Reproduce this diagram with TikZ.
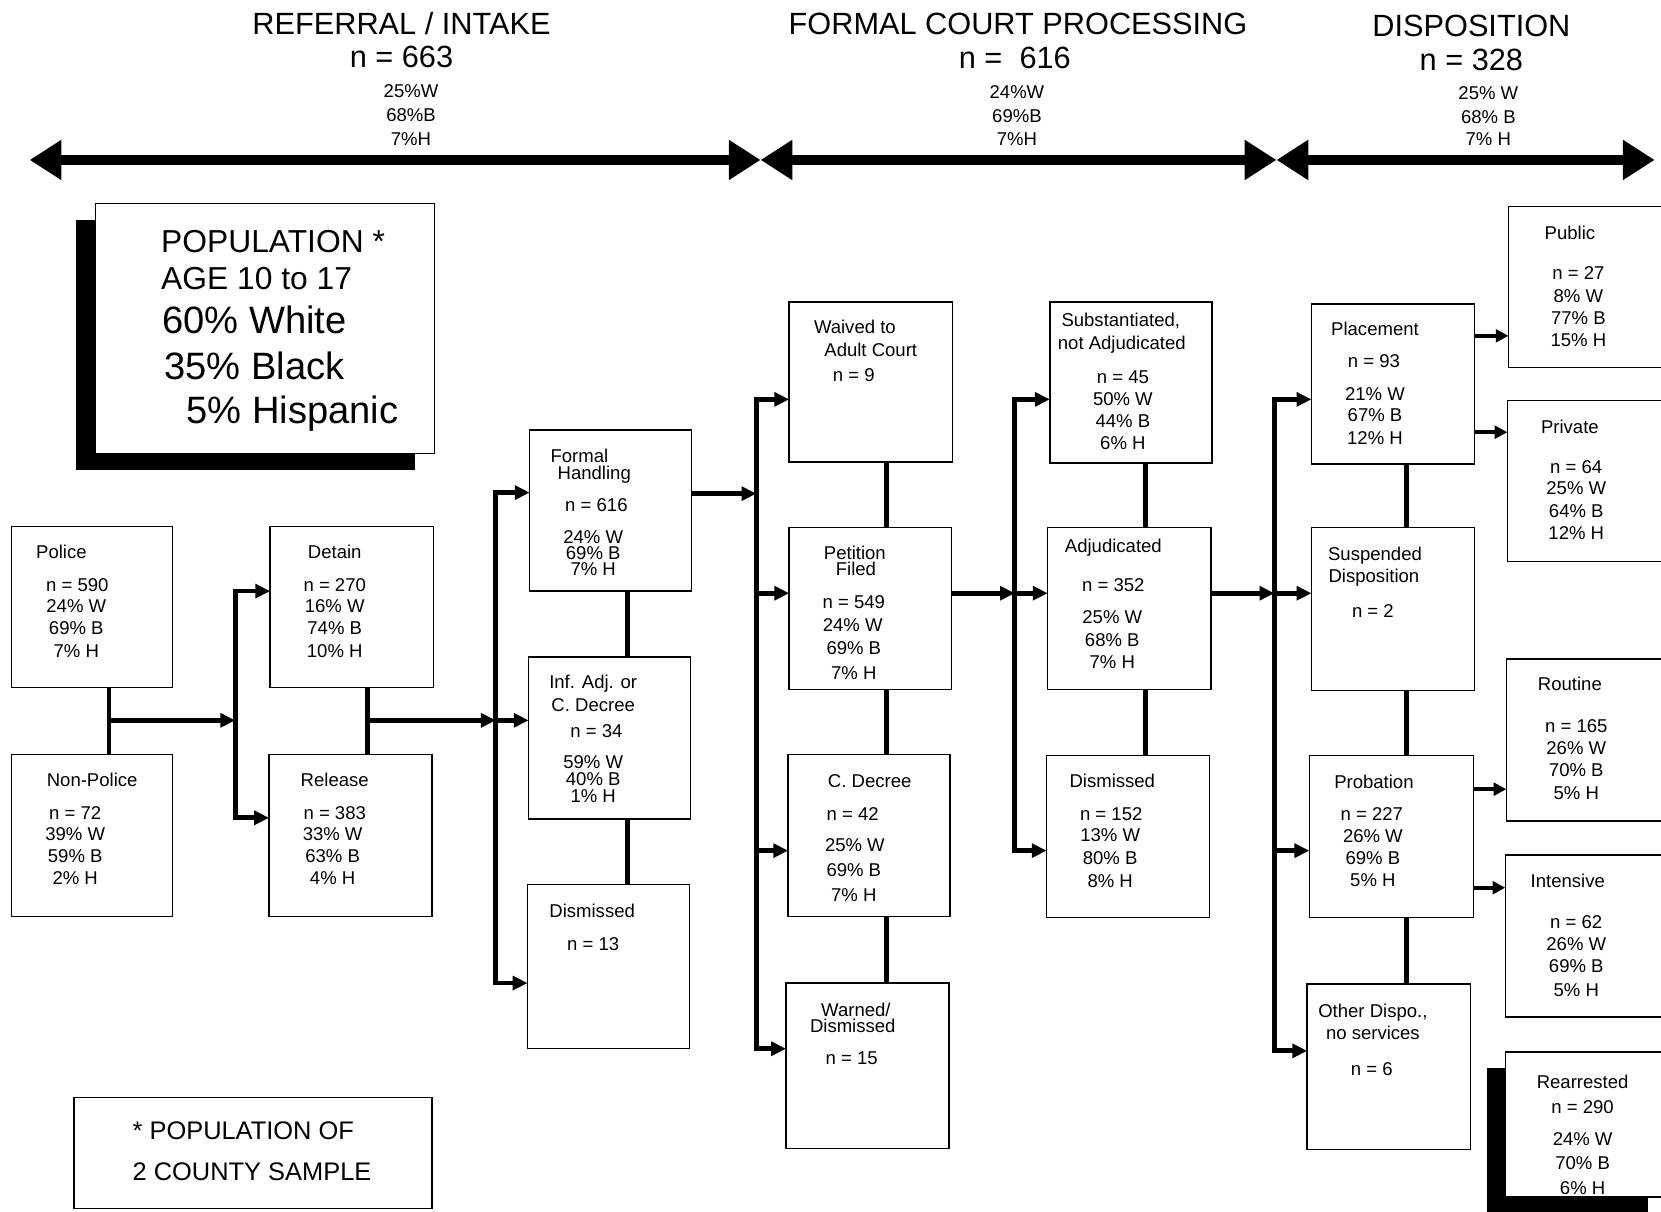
\documentclass[tikz,border=0pt]{standalone}
\usepackage{fontspec}
\setmainfont{Liberation Sans}
\usetikzlibrary{arrows.meta}
\newcommand\mkbox[5]{\node[boxst, minimum width={(#4)-(#2)}, minimum height={(#5)-(#3)}] (#1) at ({((#2)+(#4))/2},{((#3)+(#5))/2}) {};}
\begin{document}
\begin{tikzpicture}[x=1pt,y=-1pt,
  boxst/.style={draw, line width=1.4pt, fill=white, inner sep=0pt, outer sep=0pt, rectangle},
  conn/.style={line width=4.5pt},
  arr/.style={line width=4.5pt, -{Triangle[length=14pt,width=13pt]}},
  sarr/.style={line width=4pt, -{Triangle[length=12pt,width=12pt]}},
  harrow/.style={line width=9pt, {Triangle[length=30pt,width=36pt]}-{Triangle[length=30pt,width=36pt]}},
  txt/.style={font=\fontsize{17.5}{21}\selectfont, inner sep=0pt, text height=12.5pt, text depth=0pt},
  hd/.style={font=\fontsize{29}{34}\selectfont, inner sep=0pt, text height=20.8pt, text depth=0pt},
  popa/.style={font=\fontsize{30}{36}\selectfont, inner sep=0pt, text height=21.5pt, text depth=0pt, anchor=west},
  popb/.style={font=\fontsize{36}{42}\selectfont, inner sep=0pt, text height=25.8pt, text depth=0pt, anchor=west},
  foot/.style={font=\fontsize{24}{28}\selectfont, inner sep=0pt, text height=17.2pt, text depth=0pt, anchor=west},
]
\useasboundingbox (0,0) rectangle (1568,1144);

% ---------- header ----------
\node[hd] (hA) at (379,22) {REFERRAL / INTAKE};
\node[hd] (hAn) at (379,53) {n = 663};
\node[txt] (hA1) at (388,86) {25\%W};
\node[txt] (hA2) at (388,108) {68\%B};
\node[txt] (hA3) at (388,131) {7\%H};
\node[hd] (hB) at (961,22) {FORMAL COURT PROCESSING};
\node[hd] (hBn) at (958,54) {n =\ \ 616};
\node[txt] (hB1) at (960,87) {24\%W};
\node[txt] (hB2) at (960,109) {69\%B};
\node[txt] (hB3) at (960,131) {7\%H};
\node[hd] (hC) at (1389,24) {DISPOSITION};
\node[hd] (hCn) at (1389,56) {n = 328};
\node[txt] (hC1) at (1405,88) {25\% W};
\node[txt] (hC2) at (1405,110) {68\% B};
\node[txt] (hC3) at (1405,131) {7\% H};

\coordinate (h0) at (28,151);
\coordinate (h1) at (718,151);
\coordinate (h2) at (1205,151);
\coordinate (h3) at (1562,151);
\draw[harrow] (h0) -- (h1);
\draw[harrow] (h1) -- (h2);
\draw[harrow] (h2) -- (h3);

% ---------- population box ----------
\fill (72,208) rectangle (392,444);
\mkbox{pop}{90}{192}{410}{428}
\node[popa] (pt1) at (152,228) {POPULATION *};
\node[popa] (pt2) at (152,263) {AGE 10 to 17};
\node[popb] (pt3) at (153,302) {60\% White};
\node[popb] (pt4) at (155,345) {35\% Black};
\node[popb] (pt5) at (176,387) {5\% Hispanic};

% ---------- footnote ----------
\mkbox{foot}{70}{1036}{408}{1141}
\node[foot] (ft1) at (125,1067) {* POPULATION OF};
\node[foot] (ft2) at (125,1106) {2 COUNTY SAMPLE};

% ---------- boxes ----------
\mkbox{police}{11}{497}{163}{649}
\mkbox{nonpolice}{11}{712}{163}{865}
\mkbox{detain}{255}{497}{409}{649}
\mkbox{release}{254}{712}{408}{865}
\mkbox{formal}{500}{406}{653}{558}
\mkbox{infadj}{499}{620}{652}{773}
\mkbox{dism1}{498}{835}{651}{990}
\mkbox{waived}{745}{285}{899}{436}
\mkbox{petition}{745}{498}{898}{651}
\mkbox{cdecree}{744}{712}{897}{865}
\mkbox{warned}{742}{928}{896}{1084}
\mkbox{subst}{991}{285}{1144}{437}
\mkbox{adjud}{989}{498}{1143}{651}
\mkbox{dism2}{988}{713}{1142}{866}
\mkbox{placement}{1238}{287}{1392}{438}
\mkbox{suspended}{1238}{498}{1392}{652}
\mkbox{probation}{1236}{713}{1391}{866}
\mkbox{other}{1234}{929}{1388}{1085}
\mkbox{public}{1424}{195}{1590}{347}
\mkbox{private}{1423}{378}{1590}{530}
\mkbox{routine}{1422}{622}{1590}{775}
\mkbox{intensive}{1421}{807}{1590}{960}
\fill (1404,1008) rectangle (1556,1160);
\mkbox{rearrested}{1421}{993}{1590}{1130}

% ---------- connectors ----------
\coordinate (jA) at (103,680);
\coordinate (bA1) at (222,558);
\coordinate (bA2) at (222,772);
\draw[conn] (police.south -| jA) -- (nonpolice.north -| jA);
\draw[arr] (jA) -- (bA1 |- jA);
\draw[conn, line cap=rect] (bA1) -- (bA2);
\draw[arr] (bA1) -- (bA1 -| detain.west);
\draw[arr] (bA2) -- (bA2 -| release.west);

\coordinate (jB) at (347,680);
\coordinate (bB1) at (468,465);
\coordinate (bB2) at (468,680);
\coordinate (bB3) at (468,928);
\draw[conn] (detain.south -| jB) -- (release.north -| jB);
\draw[arr] (jB) -- (bB2);
\draw[conn, line cap=rect] (bB1) -- (bB3);
\draw[arr] (bB1) -- (bB1 -| formal.west);
\draw[arr] (bB2) -- (bB2 -| infadj.west);
\draw[arr] (bB3) -- (bB3 -| dism1.west);
\coordinate (v1) at (592,0);
\draw[conn] (formal.south -| v1) -- (infadj.north -| v1);
\draw[conn] (infadj.south -| v1) -- (dism1.north -| v1);

\coordinate (bC0) at (714,466);
\coordinate (bC1) at (714,377);
\coordinate (bC2) at (714,560);
\coordinate (bC3) at (714,803);
\coordinate (bC4) at (714,990);
\draw[arr] (formal.east |- bC0) -- (bC0);
\draw[conn, line cap=rect] (bC1) -- (bC4);
\draw[arr] (bC1) -- (bC1 -| waived.west);
\draw[arr] (bC2) -- (bC2 -| petition.west);
\draw[arr] (bC3) -- (bC3 -| cdecree.west);
\draw[arr] (bC4) -- (bC4 -| warned.west);
\coordinate (v2) at (837,0);
\draw[conn] (waived.south -| v2) -- (petition.north -| v2);
\draw[conn] (petition.south -| v2) -- (cdecree.north -| v2);
\draw[conn] (cdecree.south -| v2) -- (warned.north -| v2);

\coordinate (bD0) at (958,560);
\coordinate (bD1) at (958,377);
\coordinate (bD3) at (958,803);
\draw[arr] (petition.east |- bD0) -- (bD0);
\draw[conn, line cap=rect] (bD1) -- (bD3);
\draw[arr] (bD1) -- (bD1 -| subst.west);
\draw[arr] (bD0) -- (bD0 -| adjud.west);
\draw[arr] (bD3) -- (bD3 -| dism2.west);
\coordinate (v3) at (1081,0);
\draw[conn] (subst.south -| v3) -- (adjud.north -| v3);
\draw[conn] (adjud.south -| v3) -- (dism2.north -| v3);

\coordinate (bE0) at (1203,560);
\coordinate (bE1) at (1203,377);
\coordinate (bE3) at (1203,803);
\coordinate (bE4) at (1203,992);
\draw[arr] (adjud.east |- bE0) -- (bE0);
\draw[conn, line cap=rect] (bE1) -- (bE4);
\draw[arr] (bE1) -- (bE1 -| placement.west);
\draw[arr] (bE0) -- (bE0 -| suspended.west);
\draw[arr] (bE3) -- (bE3 -| probation.west);
\draw[arr] (bE4) -- (bE4 -| other.west);
\coordinate (v4) at (1328,0);
\draw[conn] (placement.south -| v4) -- (suspended.north -| v4);
\draw[conn] (suspended.south -| v4) -- (probation.north -| v4);
\draw[conn] (probation.south -| v4) -- (other.north -| v4);

\coordinate (p1) at (0,317);
\coordinate (p2) at (0,408);
\coordinate (p3) at (0,745);
\coordinate (p4) at (0,838);
\draw[sarr] (placement.east |- p1) -- (public.west |- p1);
\draw[sarr] (placement.east |- p2) -- (private.west |- p2);
\draw[sarr] (probation.east |- p3) -- (routine.west |- p3);
\draw[sarr] (probation.east |- p4) -- (intensive.west |- p4);

% ---------- box texts ----------
\foreach \t/\x/\y [count=\i] in {
  Police/58/521, n = 590/73/552, 24\% W/72/572, 69\% B/72/593, 7\% H/72/614,
  Non-Police/87/736, n = 72/71/767, 39\% W/71/787, 59\% B/71/808, 2\% H/71/829,
  Detain/316/521, n = 270/316/552, 16\% W/316/572, 74\% B/316/593, 10\% H/316/614,
  Release/316/736, n = 383/316/767, 33\% W/314/787, 63\% B/314/808, 4\% H/314/829,
  Formal/547/430, Handling/561/446, n = 616/563/477, 24\% W/560/507, 69\% B/560/522, 7\% H/560/537,
  Inf. Adj. or/560/644, C. Decree/560/665, n = 34/563/690, 59\% W/560/719, 40\% B/560/735, 1\% H/560/751,
  Dismissed/559/860, n = 13/560/891,
  Waived to/807/309, Adult Court/822/330, n = 9/806/354,
  Petition/807/522, Filed/808/537, n = 549/806/568, 24\% W/805/590, 69\% B/806/612, 7\% H/806/635,
  C. Decree/821/737, n = 42/805/768, 25\% W/807/798, 69\% B/806/821, 7\% H/806/845,
  {Warned/}/808/953, Dismissed/805/968, n = 15/804/999,
  {Substantiated,}/1058/302, not Adjudicated/1059/324, n = 45/1060/356, 50\% W/1060/377, 44\% B/1060/397, 6\% H/1060/418,
  Adjudicated/1051/515, n = 352/1051/552, 25\% W/1050/582, 68\% B/1050/604, 7\% H/1050/625,
  Dismissed/1050/737, n = 152/1049/768, 13\% W/1048/788, 80\% B/1048/810, 8\% H/1048/832,
  Placement/1298/310, n = 93/1297/341, 21\% W/1298/372, 67\% B/1298/392, 12\% H/1298/413,
  Suspended/1298/523, Disposition/1297/544, n = 2/1296/577,
  Probation/1297/738, n = 227/1295/768, 26\% W/1296/789, 69\% B/1296/810, 5\% H/1296/831,
  {Other Dispo.,}/1296/954, no services/1296/975, n = 6/1295/1009,
  Public/1482/220, n = 27/1490/258, 8\% W/1490/279, 77\% B/1490/300, 15\% H/1490/321,
  Private/1482/403, n = 64/1488/441, 25\% W/1488/461, 64\% B/1488/482, 12\% H/1488/503,
  Routine/1482/646, n = 165/1488/685, 26\% W/1488/706, 70\% B/1488/727, 5\% H/1488/748,
  Intensive/1480/832, n = 62/1488/870, 26\% W/1488/891, 69\% B/1488/912, 5\% H/1488/934,
  Rearrested/1494/1021, n = 290/1494/1045, 24\% W/1494/1075, 70\% B/1494/1098, 6\% H/1494/1121}
  \node[txt] (L\i) at (\x,\y) {\t};
\end{tikzpicture}
\end{document}
